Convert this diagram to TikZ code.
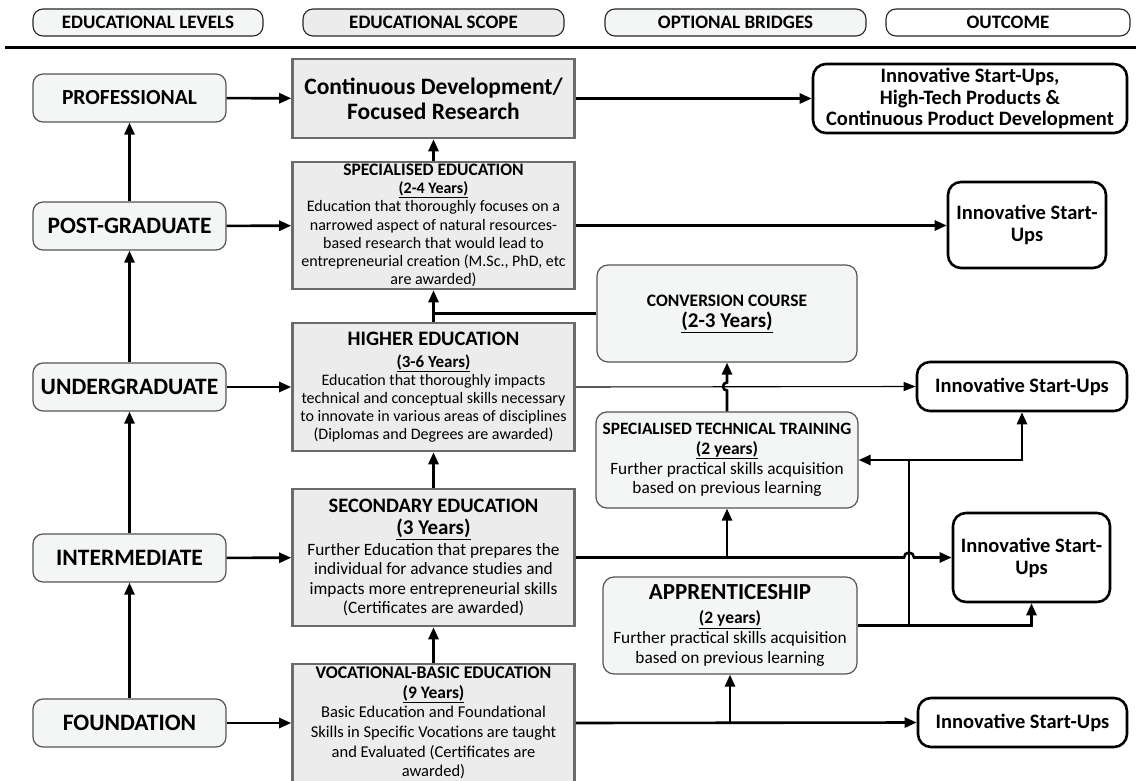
\documentclass[tikz,border=0pt]{standalone}
\usepackage{fontspec}
\setmainfont{Carlito}
\usetikzlibrary{arrows.meta,calc}
\newcommand{\setfs}[2]{\fontsize{#1}{#2}\selectfont}
\definecolor{lvlfill}{HTML}{F4F5F5}
\definecolor{scopefill}{HTML}{ECECEC}
\definecolor{scopeline}{HTML}{6B6B6B}
\definecolor{softline}{HTML}{555555}
\tikzset{
  hdr/.style={draw=black!85, line width=1.1pt, rounded corners=10pt, inner sep=0pt,
    minimum height=27pt, font=\setfs{19}{21}\bfseries},
  lvl/.style={draw=softline, fill=lvlfill, line width=1.2pt, rounded corners=10pt,
    inner sep=0pt, minimum width=193pt, minimum height=48pt},
  scopebox/.style={draw=scopeline, fill=scopefill, line width=2.6pt, inner sep=0pt,
    minimum width=282pt, align=center},
  bridge/.style={draw=softline, fill=lvlfill, line width=1.2pt, rounded corners=11pt,
    inner sep=0pt, align=center},
  outc/.style={draw=black, fill=white, line width=2.6pt, rounded corners=13pt,
    inner sep=0pt, align=center, font=\setfs{20.5}{22}\bfseries},
  arr/.style={line width=2.6pt, -{Triangle[length=12pt,width=10pt]}},
  thinarr/.style={line width=1.1pt, -{Triangle[length=12pt,width=9pt]}},
  link/.style={line width=2.6pt},
}
\begin{document}
\begin{tikzpicture}[x=1pt,y=-1pt]
\useasboundingbox (0,0) rectangle (1136,781);
\begin{scope}
\clip (0,0) rectangle (1136,781);

% column headings
\node[hdr, fill=lvlfill, minimum width=230pt] (hLev) at (148,22.5) {EDUCATIONAL LEVELS};
\node[hdr, fill=scopefill, minimum width=261pt] (hScope) at (433.5,22.5) {EDUCATIONAL SCOPE};
\node[hdr, fill=lvlfill, minimum width=261pt] (hBr) at (735.5,22.5) {OPTIONAL BRIDGES};
\node[hdr, fill=white, minimum width=244pt] (hOut) at (1008,22.5) {OUTCOME};
\coordinate (ruleL) at (5,48);
\coordinate (ruleR) at (1136,48);
\draw[line width=3pt] (ruleL) -- (ruleR);

% educational levels
\node[lvl, font=\setfs{21.5}{23}\bfseries] (prof) at (129.5,98) {PROFESSIONAL};
\node[lvl, font=\setfs{23.5}{25}\bfseries] (post) at (129.5,226) {POST-GRADUATE};
\node[lvl, font=\setfs{23.5}{25}\bfseries] (under) at (129.5,387) {UNDERGRADUATE};
\node[lvl, font=\setfs{23.5}{25}\bfseries] (inter) at (129.5,558) {INTERMEDIATE};
\node[lvl, font=\setfs{23.5}{25}\bfseries] (found) at (129.5,723) {FOUNDATION};

% educational scope
\node[scopebox, minimum height=79pt, font=\setfs{23.5}{25}\bfseries] (cd) at (433.5,98.5)
  {Continuous Development/\\Focused Research};
\node[scopebox, minimum height=127pt, font=\setfs{16}{18.2}] (spec) at (433.5,225.5)
  {{\setfs{17.5}{18.2}\bfseries SPECIALISED EDUCATION}\\
   {\setfs{16}{18.2}\bfseries\underline{(2-4 Years)}}\\
   Education that thoroughly focuses on a\\
   narrowed aspect of natural resources-\\
   based research that would lead to\\
   entrepreneurial creation (M.Sc., PhD, etc\\
   are awarded)};
\node[scopebox, minimum height=128pt, font=\setfs{16}{18}] (higher) at (433.5,387)
  {{\setfs{20.5}{18}\bfseries HIGHER EDUCATION}\\[4pt]
   {\setfs{17}{18}\bfseries\underline{(3-6 Years)}}\\
   Education that thoroughly impacts\\
   technical and conceptual skills necessary\\
   to innovate in various areas of disciplines\\
   (Diplomas and Degrees are awarded)};
\node[scopebox, minimum height=137pt, font=\setfs{17.3}{19.3}] (sec) at (433.5,557.5)
  {{\setfs{20.5}{19.3}\bfseries SECONDARY EDUCATION}\\[3pt]
   {\setfs{21}{19.3}\bfseries\underline{(3 Years)}}\\[1.5pt]
   Further Education that prepares the\\
   individual for advance studies and\\
   impacts more entrepreneurial skills\\
   (Certificates are awarded)};
\node[scopebox, minimum height=118pt, font=\setfs{16.5}{19.6}] (voc) at (433.5,723)
  {{\setfs{17.8}{19.6}\bfseries VOCATIONAL-BASIC EDUCATION}\\
   {\setfs{17.5}{19.6}\bfseries\underline{(9 Years)}}\\
   Basic Education and Foundational\\
   Skills in Specific Vocations are taught\\
   and Evaluated (Certificates are\\
   awarded)};

% optional bridges
\node[bridge, minimum width=260pt, minimum height=97pt, font=\setfs{17.5}{21}] (conv) at (727,313.5)
  {{\setfs{17.5}{21}\bfseries CONVERSION COURSE}\\
   {\setfs{21}{21}\bfseries\underline{(2-3 Years)}}};
\node[bridge, minimum width=262pt, minimum height=96pt, font=\setfs{17.3}{19.7}] (stt) at (727,460)
  {{\setfs{17.3}{19.7}\bfseries SPECIALISED TECHNICAL TRAINING}\\
   {\setfs{17.5}{19.7}\bfseries\underline{(2 years)}}\\
   Further practical skills acquisition\\
   based on previous learning};
\node[bridge, minimum width=254pt, minimum height=97pt, font=\setfs{17.3}{20}] (app) at (730,625.5)
  {{\setfs{23}{20}\bfseries APPRENTICESHIP}\\[4pt]
   {\setfs{17.5}{20}\bfseries\underline{(2 years)}}\\
   Further practical skills acquisition\\
   based on previous learning};

% outcomes
\node[outc, minimum width=314pt, minimum height=69pt, font=\setfs{20.5}{21.5}\bfseries] (top) at (970,98.5)
  {Innovative Start-Ups,\\High-Tech Products \&\\Continuous Product Development};
\node[outc, minimum width=158pt, minimum height=86pt] (pg) at (1027,225)
  {Innovative Start-\\Ups};
\node[outc, minimum width=210pt, minimum height=49pt] (ug) at (1022,386.5)
  {Innovative Start-Ups};
\node[outc, minimum width=157pt, minimum height=89pt] (im) at (1031.5,557.5)
  {Innovative Start-\\Ups};
\node[outc, minimum width=209pt, minimum height=49pt] (fd) at (1022.5,722.5)
  {Innovative Start-Ups};

% progression through the levels
\draw[arr] (found) -- (inter);
\draw[arr] (inter) -- (under);
\draw[arr] (under) -- (post);
\draw[arr] (post) -- (prof);

% each level enters its scope
\draw[arr] (prof) -- (cd);
\draw[arr] (post) -- (spec);
\draw[arr] (under) -- (higher);
\draw[arr] (inter) -- (sec);
\draw[arr] (found) -- (voc);

% progression through the scopes
\draw[arr] (voc) -- (sec);
\draw[arr] (sec) -- (higher);
\draw[arr] (higher) -- (spec);
\draw[arr] (spec) -- (cd);
\draw[link] (conv.west) -- (conv.west -| higher.north);

% scopes to outcomes
\draw[arr] (cd) -- (top);
\draw[arr] (spec.east) -- (spec.east -| pg.west);
\draw[thinarr] (higher.east) -- (ug.west);
\coordinate (jx) at (909,0);
\draw[arr] (sec.east) -- ($(sec.east -| jx)+(-5,0)$)
  arc[start angle=180, end angle=0, radius=5pt] -- (im.west);
\draw[arr] (voc.east) -- (fd.west);

% bridges
\draw[arr] (voc.east -| app.south) -- (app.south);
\draw[arr] (sec.east -| stt.south) -- (stt.south);
\draw[arr] (stt.north) -- ($(ug.west -| stt.north)+(0,4)$)
  arc[start angle=270, end angle=90, radius=4pt] -- (conv.south);
\draw[arr] (app.east) -| (im.south);
\draw[link] (app.east -| jx) -- (stt.east -| jx);
\draw[arr] (stt.east -| jx) -- (stt.east);
\draw[arr] (stt.east -| jx) -| (ug.south);
\end{scope}
\end{tikzpicture}
\end{document}
